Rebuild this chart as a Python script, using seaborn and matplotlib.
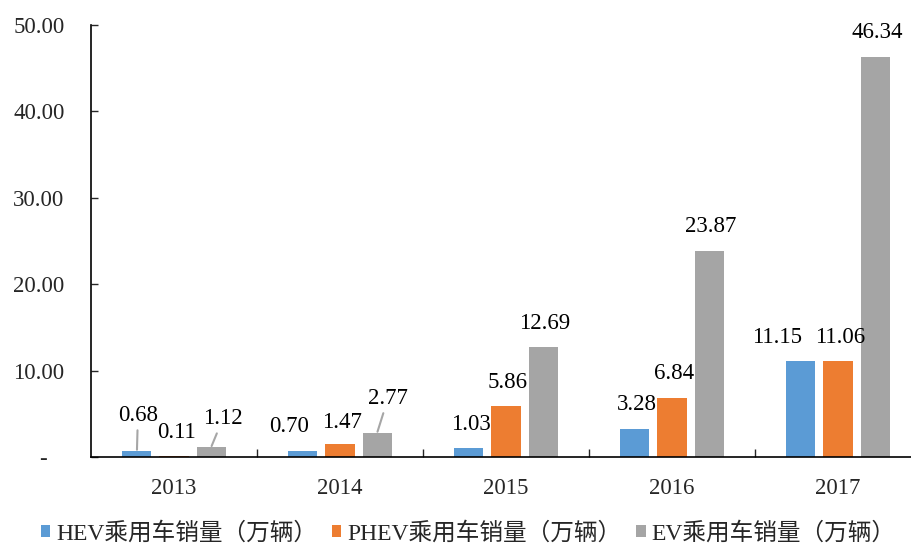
import pandas as pd
import seaborn as sns
import matplotlib.pyplot as plt
from matplotlib.patches import Patch

# data
years = ['2013', '2014', '2015', '2016', '2017']
hev = [0.68, 0.70, 1.03, 3.28, 11.15]
phev = [0.11, 1.47, 5.86, 6.84, 11.06]
ev = [1.12, 2.77, 12.69, 23.87, 46.34]
series = ['HEV乘用车销量（万辆）', 'PHEV乘用车销量（万辆）', 'EV乘用车销量（万辆）']
colors = ['#5B9BD5', '#ED7D31', '#A5A5A5']
y_ticks = [0, 10, 20, 30, 40, 50]
y_ticklabels = ['-   ', '10.00', '20.00', '30.00', '40.00', '50.00']

sns.set_style('white')
plt.rcParams['font.family'] = ['Liberation Serif', 'Noto Sans CJK SC']
plt.rcParams['axes.unicode_minus'] = False

df = pd.DataFrame({
    'year': years * 3,
    'value': hev + phev + ev,
    'series': [s for s in series for _ in years],
})

fig = plt.figure(figsize=(9.11, 5.46), dpi=100)
ax = fig.add_axes([91 / 911, 89 / 546, 820 / 911, 432 / 546])

sns.barplot(data=df, x='year', y='value', hue='series', hue_order=series,
            palette=colors, saturation=1, width=0.67, gap=0.215, linewidth=0,
            errorbar=None, legend=False, ax=ax)

ax.set_xlim(-0.5, -0.5 + 820 / 166)
ax.set_ylim(0, 50)
ax.set_xlabel('')
ax.set_ylabel('')

# y axis
ax.set_yticks(y_ticks)
ax.set_yticklabels(y_ticklabels, fontsize=16.5)
ax.tick_params(axis='y', direction='in', length=5, width=1, pad=19, left=True)

# x axis: labels at centers, tick marks between groups
ax.set_xticks(range(len(years)))
ax.set_xticklabels(years, fontsize=16.5)
ax.set_xticks([i + 0.5 for i in range(len(years) - 1)], minor=True)
ax.tick_params(axis='x', which='major', length=0, pad=15)
ax.tick_params(axis='x', which='minor', direction='in', length=6, width=1, bottom=True)

for side in ['top', 'right']:
    ax.spines[side].set_visible(False)
for side in ['left', 'bottom']:
    ax.spines[side].set_color('#000000')
    ax.spines[side].set_linewidth(1.2)

# data labels, a few nudged with leader lines as in the original
offsets = {
    (0, 0): (1, 36, True),
    (1, 0): (2, 24, False),
    (2, 0): (12, 29, True),
    (0, 1): (-14, 24, False),
    (1, 1): (2, 22, False),
    (2, 1): (11, 35, True),
    (0, 4): (-24, 23, False),
}
for s, cont in enumerate(ax.containers):
    for i, bar in enumerate(cont):
        x = bar.get_x() + bar.get_width() / 2
        h = bar.get_height()
        dx, dy, lead = offsets.get((s, i), (2, 24, False))
        kw = {}
        if lead:
            kw['arrowprops'] = dict(arrowstyle='-', color='#A6A6A6', lw=1.5,
                                    shrinkA=1, shrinkB=1)
        ax.annotate(f'{h:.2f}', xy=(x, h), xytext=(dx, dy),
                    textcoords='offset pixels', ha='center', va='center',
                    fontsize=16.5, color='#000000', **kw)

handles = [Patch(facecolor=c, edgecolor='none', label=s) for s, c in zip(series, colors)]
fig.legend(handles=handles, loc='center', bbox_to_anchor=(468 / 911, 1 - 533 / 546),
           ncol=3, frameon=False, fontsize=17, handlelength=0.42, handleheight=0.42,
           handletextpad=0.25, columnspacing=0.6)

fig.savefig('out.png', dpi=100)
